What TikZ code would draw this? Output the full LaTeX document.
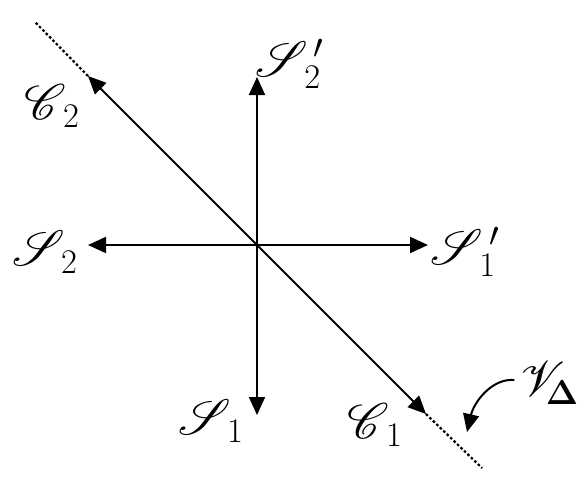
\documentclass[tikz,border=0pt]{standalone}
\usepackage{amsmath,amssymb,bm}
\usepackage{mathrsfs}
\usetikzlibrary{arrows.meta, positioning, calc}

\begin{document}
\begin{tikzpicture}[
  x=0.5pt, y=-0.5pt,
  arr/.style={-{Triangle[length=9pt, width=8pt]}, line width=1pt},
  tail/.style={dash pattern=on 1.3pt off 1.1pt, line width=1.1pt},
  lbl/.style={inner sep=0pt, font=\fontsize{26}{28}\selectfont},
]
\useasboundingbox (0,0) rectangle (581,493);

% Centre and arrow tips
\coordinate (O) at (257,245);
\coordinate (up) at (257,77);
\coordinate (down) at (257,415);
\coordinate (left) at (88,245);
\coordinate (right) at (428,245);
\coordinate (ul) at (88,76);
\coordinate (dr) at (426,414);
\coordinate (ulend) at (35,22);
\coordinate (drend) at (482,468);

% Axes
\draw[arr] (O) -- (up);
\draw[arr] (O) -- (down);
\draw[arr] (O) -- (left);
\draw[arr] (O) -- (right);

% Diagonal with dotted ends
\draw[arr] (O) -- (ul);
\draw[arr] (O) -- (dr);
\draw[tail] (ul) -- (ulend);
\draw[tail] (dr) -- (drend);

% Labels
\node[lbl] (s2p) at (290,64) {$\mathscr{S}^{\,\prime}_{\,2}$};
\node[lbl] (c2) at (52,106) {$\mathscr{C}_{\,2}$};
\node[lbl] (s2) at (45,252) {$\mathscr{S}_{\,2}$};
\node[lbl] (s1p) at (465,252) {$\mathscr{S}^{\,\prime}_{\,1}$};
\node[lbl] (s1) at (211,421) {$\mathscr{S}_{\,1}$};
\node[lbl] (c1) at (375,425) {$\mathscr{C}_{\,1}$};
\node[lbl] (vd) at (550,383) {$\mathscr{V}_{\!\bm{\Delta}}$};

% Pointer to the dotted line
\coordinate (vtip) at (467,432);
\draw[arr] (vd.west |- 0,380) ++(-6,0) .. controls (492,378) and (474,402) .. (vtip);

\end{tikzpicture}
\end{document}
